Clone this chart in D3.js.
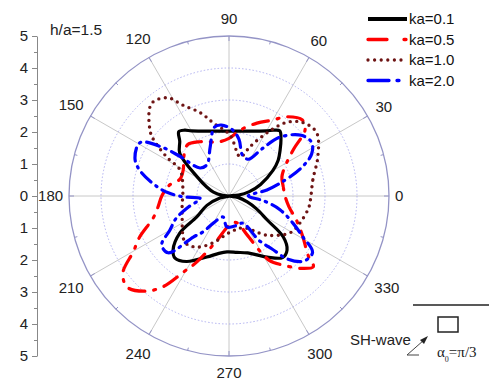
<!DOCTYPE html>
<html>
<head>
<meta charset="utf-8">
<script src="https://cdn.jsdelivr.net/npm/d3@7"></script>
<style>
  body { margin: 0; background: #fff; }
  text { font-family: Arial, 'Liberation Sans', sans-serif; }
</style>
</head>
<body>
<svg id="chart" width="489" height="383"></svg>
<script>
// polar samples: [angle in degrees (0 = right, counter-clockwise), radius]
const ka01 = [[0, 0], [5, 0.3], [12, 0.65], [20, 1.05], [30, 1.58], [36, 1.9], [42, 2.15], [47, 2.38], [52, 2.58],
  [56, 2.48], [60, 2.35], [70, 2.16], [80, 2.06], [90, 2.03], [100, 2.06], [110, 2.16], [120, 2.35], [124, 2.48],
  [128, 2.55], [132, 2.3], [139, 2.04], [149, 1.16], [158, 0.75], [166, 0.5], [174, 0.2], [180, 0],
  [192, 0.29], [203, 0.75], [213, 1.2], [217, 1.92], [224, 2.43], [229, 2.57], [237, 2.44], [250, 2.03],
  [260, 1.82], [268, 1.75], [278, 1.78], [288, 1.87], [302, 2.25], [311, 2.55], [317, 2.48], [323, 2.12],
  [328, 1.4], [335, 0.95], [342, 0.6], [351, 0.28]];

const ka05 = [[0, 1.75], [10, 1.72], [20, 1.76], [30, 2.08], [36, 2.5], [41, 3.15], [46, 3.3], [54, 3.06],
  [60, 2.74], [69, 2.44], [80, 2.1], [90, 1.8], [101, 1.72], [110, 1.8], [118, 1.92], [129, 2.06], [140, 1.85],
  [150, 1.65], [161, 1.62], [170, 1.9], [180, 2.1], [189, 2.25], [196, 2.46], [205, 3.1], [210, 3.44],
  [216, 4.1], [222, 4.27], [229, 3.94], [234, 3.5], [239, 2.78], [244, 2.29], [255, 1.43], [263, 1.07],
  [275, 0.85], [287, 0.88], [295, 1.34], [302, 2.37], [308, 2.74], [315, 3.2], [320, 3.44], [323, 3.1],
  [331, 2.64], [340, 2.25], [350, 1.9]];

const ka10 = [[0, 2.56], [11, 2.67], [24, 3.04], [36, 3.38], [45, 3.25], [52, 2.92], [59, 2.3], [67, 1.67],
  [74, 1.27], [89, 1.9], [102, 2.33], [109, 2.75], [117, 3.19], [122, 3.62], [130, 3.77], [141, 3.16],
  [144, 2.84], [148, 2.29], [152, 1.73], [169, 1.47], [200, 1.56], [227, 2.0], [238, 1.88], [251, 1.55],
  [272, 1.13], [294, 1.09], [314, 1.7], [329, 2.23], [339, 2.37], [352, 2.52]];

const ka20 = [[0, 0.6], [9, 1.2], [14, 1.64], [21, 2.4], [27, 2.9], [33, 3.08], [40, 2.95], [49, 2.44],
  [55, 1.8], [62, 1.3], [72, 1.35], [80, 1.8], [87, 2.07], [96, 2.23], [102, 2.2], [111, 1.64], [125, 1.2],
  [136, 1.26], [141, 1.96], [144, 2.6], [149, 3.24], [158, 3.17], [164, 2.9], [173, 2.24], [177, 1.9],
  [181, 1.44], [185, 0.9], [195, 1.3], [203, 1.8], [210, 2.13], [216, 2.6], [223, 2.6], [229, 1.7],
  [234, 1.39], [240, 0.98], [254, 0.68], [266, 0.97], [285, 0.95], [297, 0.95], [304, 1.67], [309, 2.12],
  [313, 2.7], [319, 3.1], [326, 3.15], [331, 2.64], [337, 2.17], [345, 1.65], [352, 1.1]];

const seriesNames = ['ka=0.1', 'ka=0.5', 'ka=1.0', 'ka=2.0'];
const angleTicks = d3.range(0, 360, 30);
const gridRadii = [1, 2, 3, 4];
const sideTicks = d3.range(-5, 6);

const cx = 229;
const cy = 196;
const R = 160;

const svg = d3.select('#chart');
const r = d3.scaleLinear().domain([0, 5]).range([0, R]);
const toRad = (deg) => (deg * Math.PI) / 180;

// left radial axis (mirrored: 5..0..5)
const y = d3.scaleLinear().domain([-5, 5]).range([cy + R, cy - R]);
const axisG = svg.append('g').attr('transform', 'translate(37,0)');
axisG
  .call(d3.axisLeft(y).tickValues(sideTicks).tickFormat((d) => Math.abs(d)).tickSize(5).tickSizeOuter(0).tickPadding(4))
  .call((g) => g.select('.domain').attr('stroke', '#888'))
  .call((g) => g.selectAll('.tick line').attr('stroke', '#888'))
  .call((g) => g.selectAll('.tick text').attr('fill', '#222').style('font-size', '15px').style('font-family', 'Arial, Liberation Sans, sans-serif'));
svg
  .append('g')
  .attr('transform', 'translate(37,0)')
  .call(d3.axisLeft(y).tickValues(d3.range(-4.5, 5, 1)).tickFormat('').tickSize(3).tickSizeOuter(0))
  .call((g) => g.select('.domain').remove())
  .call((g) => g.selectAll('.tick line').attr('stroke', '#888'));

// polar grid
const grid = svg.append('g').attr('transform', `translate(${cx},${cy})`);
grid
  .selectAll('line.spoke')
  .data(angleTicks)
  .join('line')
  .attr('class', 'spoke')
  .attr('x1', 0)
  .attr('y1', 0)
  .attr('x2', (d) => R * Math.cos(toRad(d)))
  .attr('y2', (d) => -R * Math.sin(toRad(d)))
  .attr('stroke', '#c8c8c8')
  .attr('stroke-width', 1);

grid
  .selectAll('circle.ring')
  .data(gridRadii)
  .join('circle')
  .attr('class', 'ring')
  .attr('r', (d) => r(d))
  .attr('fill', 'none')
  .attr('stroke', '#a8a8ee')
  .attr('stroke-width', 0.9)
  .attr('stroke-dasharray', '1.5,2');

grid
  .append('circle')
  .attr('r', R)
  .attr('fill', 'none')
  .attr('stroke', '#9494c6')
  .attr('stroke-width', 1.3);

grid
  .selectAll('line.rimtick')
  .data(d3.range(0, 360, 15))
  .join('line')
  .attr('class', 'rimtick')
  .attr('x1', (d) => R * Math.cos(toRad(d)))
  .attr('y1', (d) => -R * Math.sin(toRad(d)))
  .attr('x2', (d) => (R - (d % 30 === 0 ? 5 : 3)) * Math.cos(toRad(d)))
  .attr('y2', (d) => -(R - (d % 30 === 0 ? 5 : 3)) * Math.sin(toRad(d)))
  .attr('stroke', '#9494c6')
  .attr('stroke-width', 1);

// angle labels
grid
  .selectAll('text.ang')
  .data(angleTicks)
  .join('text')
  .attr('class', 'ang')
  .each(function (d) {
    const label = String(d);
    const w = label.length * 8.3;
    const c = Math.cos(toRad(d));
    const s = Math.sin(toRad(d));
    const rr = 166 + 11 * Math.abs(s) + (w / 2) * Math.abs(c);
    d3.select(this)
      .attr('x', rr * c)
      .attr('y', -rr * s)
      .attr('dy', '0.36em')
      .attr('text-anchor', 'middle')
      .style('font-size', '15px')
      .attr('fill', '#222')
      .text(label);
  });

// curves
const lineRadial = d3
  .lineRadial()
  .angle((d) => toRad(90 - d[0]))
  .radius((d) => r(d[1]))
  .curve(d3.curveCatmullRomClosed.alpha(0.5));

const styles = [
  { data: ka01, color: '#000000', width: 3.2, dash: null },
  { data: ka05, color: '#ff0000', width: 3.2, dash: '16,9,2,9' },
  { data: ka10, color: '#6e1414', width: 3.4, dash: '0,6.5' },
  { data: ka20, color: '#0000ff', width: 3.2, dash: '13,6,1.5,6' },
];

const curves = svg.append('g').attr('transform', `translate(${cx},${cy})`);
curves
  .selectAll('path')
  .data(styles)
  .join('path')
  .attr('d', (s) => lineRadial(s.data))
  .attr('fill', 'none')
  .attr('stroke', (s) => s.color)
  .attr('stroke-width', (s) => s.width)
  .attr('stroke-linecap', 'round')
  .attr('stroke-linejoin', 'round')
  .attr('stroke-dasharray', (s) => s.dash);

// legend
const legendDash = [null, '19,17,2,40', '0,6.6', '21,8,2,40'];
const legend = svg.append('g').attr('transform', 'translate(368,19)');
const rows = legend
  .selectAll('g')
  .data(seriesNames)
  .join('g')
  .attr('transform', (_, i) => `translate(0,${i * 20.5})`);
rows
  .append('line')
  .attr('x1', 0)
  .attr('x2', 39)
  .attr('y1', 0)
  .attr('y2', 0)
  .attr('stroke', (_, i) => styles[i].color)
  .attr('stroke-width', (_, i) => (i === 0 ? 4 : 3.3))
  .attr('stroke-linecap', (_, i) => (i === 0 ? 'butt' : 'round'))
  .attr('stroke-dasharray', (_, i) => legendDash[i]);
rows
  .append('text')
  .attr('x', 41)
  .attr('y', 0)
  .attr('dy', '0.36em')
  .style('font-size', '15px')
  .attr('fill', '#111')
  .text((d) => d);

// annotation
svg
  .append('text')
  .attr('x', 50)
  .attr('y', 35)
  .style('font-size', '15.5px')
  .attr('fill', '#222')
  .text('h/a=1.5');

// SH-wave inset
const inset = svg.append('g');
inset.append('line').attr('x1', 413).attr('x2', 489).attr('y1', 305).attr('y2', 305).attr('stroke', '#222').attr('stroke-width', 1.5);
inset.append('rect').attr('x', 438).attr('y', 317).attr('width', 20).attr('height', 15).attr('fill', 'none').attr('stroke', '#222').attr('stroke-width', 1.5);
inset.append('text').attr('x', 350).attr('y', 345).style('font-size', '15px').attr('fill', '#222').text('SH-wave');
inset.append('line').attr('x1', 407).attr('y1', 355).attr('x2', 419).attr('y2', 355).attr('stroke', '#444').attr('stroke-width', 1);
inset.append('line').attr('x1', 407).attr('y1', 355).attr('x2', 424).attr('y2', 340).attr('stroke', '#444').attr('stroke-width', 1);
inset.append('path').attr('d', 'M428,336 L420,340 L424,344 Z').attr('fill', '#222');
const alpha = inset.append('text').attr('x', 437).attr('y', 357).style('font-family', "'Liberation Serif', 'Times New Roman', serif").style('font-size', '15px').attr('fill', '#222');
alpha.append('tspan').text('α');
alpha.append('tspan').attr('dy', 5).style('font-size', '8px').text('0');
alpha.append('tspan').attr('dy', -5).text('=π/3');
</script>
</body>
</html>
